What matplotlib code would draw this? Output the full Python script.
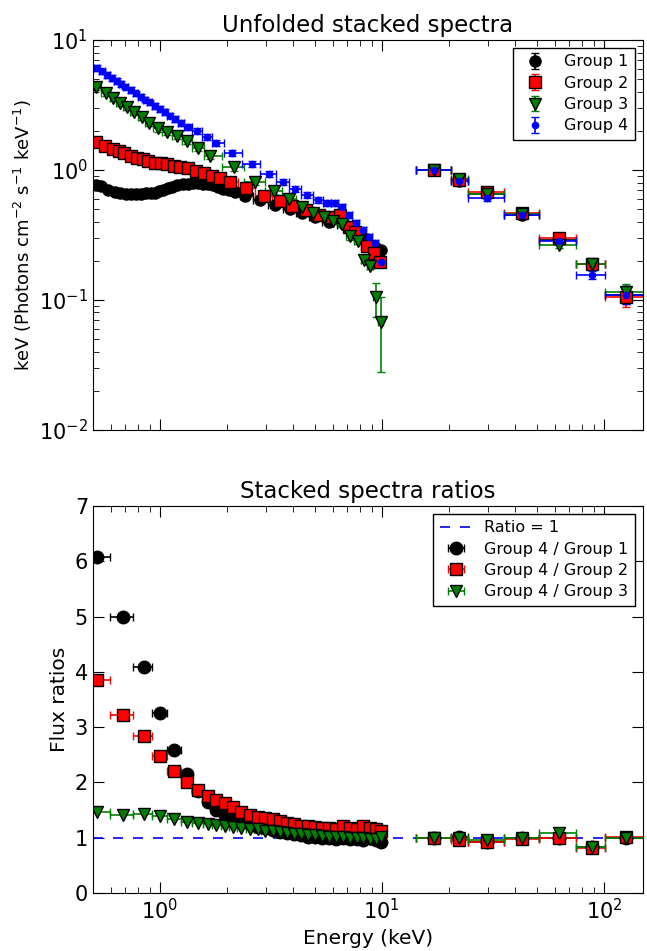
import numpy as np
import matplotlib
matplotlib.use('Agg')
import matplotlib.pyplot as plt

plt.rcParams['font.family'] = 'DejaVu Sans'
plt.rcParams['axes.unicode_minus'] = False
plt.rcParams['xtick.direction'] = 'in'
plt.rcParams['ytick.direction'] = 'in'
plt.rcParams['xtick.top'] = True
plt.rcParams['ytick.right'] = True

# --- soft band (0.5-10 keV) unfolded spectra, one binning per group ---
e_g1 = [0.516, 0.544, 0.585, 0.628, 0.665, 0.704, 0.74, 0.78, 0.82, 0.866, 0.91, 0.95, 0.99,
        1.03, 1.085, 1.14, 1.2, 1.27, 1.34, 1.41, 1.48, 1.56, 1.64, 1.73, 1.82, 1.92, 2.04,
        2.17, 2.43, 2.84, 3.31, 3.87, 4.38, 5.0, 5.77, 6.83, 8.15, 9.3, 9.9]
f_g1 = [0.767, 0.75, 0.70, 0.678, 0.665, 0.653, 0.653, 0.653, 0.655, 0.66, 0.665, 0.67, 0.685,
        0.70, 0.72, 0.74, 0.76, 0.775, 0.785, 0.79, 0.79, 0.785, 0.775, 0.76, 0.74, 0.715, 0.695,
        0.678, 0.63, 0.59, 0.54, 0.50, 0.467, 0.435, 0.40, 0.377, 0.305, 0.256, 0.243]

e_g2 = [0.516, 0.567, 0.615, 0.654, 0.689, 0.741, 0.789, 0.839, 0.883, 0.95, 1.01, 1.075,
        1.155, 1.23, 1.335, 1.45, 1.575, 1.71, 1.86, 2.08, 2.45, 2.96, 3.49, 3.95, 4.56, 5.21,
        5.96, 6.48, 7.11, 7.57, 8.57, 9.2, 9.85]
f_g2 = [1.64, 1.53, 1.45, 1.40, 1.35, 1.28, 1.24, 1.22, 1.17, 1.13, 1.13, 1.11,
        1.07, 1.05, 1.04, 0.98, 0.95, 0.90, 0.87, 0.81, 0.73, 0.63, 0.58, 0.53, 0.49, 0.45,
        0.435, 0.45, 0.365, 0.333, 0.26, 0.23, 0.196]

e_g3 = [0.516, 0.573, 0.615, 0.662, 0.711, 0.764, 0.830, 0.893, 0.980, 1.075, 1.19, 1.32,
        1.48, 1.69, 2.15, 2.69, 3.28, 3.83, 4.38, 4.9, 5.5, 6.03, 6.62, 7.19, 7.81, 8.3, 8.83,
        9.4, 9.9]
f_g3 = [4.35, 3.91, 3.58, 3.28, 3.05, 2.79, 2.56, 2.30, 2.10, 1.96, 1.83, 1.67,
        1.48, 1.28, 1.05, 0.81, 0.69, 0.60, 0.52, 0.467, 0.435, 0.405, 0.385, 0.31, 0.284, 0.203,
        0.183, 0.105, 0.068]

e_g4 = [0.52, 0.55, 0.58, 0.61, 0.64, 0.67, 0.70, 0.74, 0.78, 0.82, 0.86, 0.90, 0.95, 1.0,
        1.05, 1.11, 1.17, 1.24, 1.335, 1.465, 1.624, 1.80, 2.12, 2.59, 3.11, 3.60, 4.07, 4.61,
        5.16, 5.67, 6.15, 6.62, 7.11, 7.64, 8.22, 8.74, 9.30, 9.9]
f_g4 = [6.1, 5.73, 5.40, 5.10, 4.84, 4.60, 4.38, 4.12, 3.88, 3.67, 3.48, 3.31, 3.12, 2.94,
        2.79, 2.62, 2.47, 2.31, 2.13, 2.0, 1.80, 1.61, 1.35, 1.11, 0.93, 0.81, 0.71, 0.64,
        0.59, 0.557, 0.557, 0.52, 0.45, 0.39, 0.347, 0.306, 0.275, 0.196]

# --- hard band points, shared binning ---
e_hard = [17.2, 22.3, 29.9, 42.9, 62.6, 88.4, 125.6]
edges_hard = [14.2, 20.4, 24.4, 35.4, 50.9, 75.0, 101.0, 156.0]
h_g1 = [1.0, 0.82, 0.65, 0.45, 0.29, 0.19, 0.11]
h_g2 = [1.0, 0.84, 0.68, 0.47, 0.30, 0.19, 0.105]
h_g3 = [1.0, 0.85, 0.65, 0.46, 0.265, 0.19, 0.116]
h_g4 = [0.99, 0.82, 0.605, 0.45, 0.285, 0.156, 0.11]
h_err = [0.03, 0.03, 0.025, 0.02, 0.015, 0.012, 0.017]

# relative flux errors in the soft band
rel_err = {'g1': 0.03, 'g2': 0.03, 'g3': 0.06, 'g4': 0.05}
# large errors of the last two Group 3 points (lower, upper)
g3_last_err = [[0.031, 0.040], [0.030, 0.037]]

# --- ratios, common binning ---
e_ratio = [0.52, 0.683, 0.848, 1.0, 1.16, 1.33, 1.48, 1.64, 1.80, 1.96, 2.14, 2.33, 2.54,
           2.76, 2.98, 3.22, 3.47, 3.74, 4.03, 4.34, 4.67, 5.02, 5.40, 5.80, 6.23, 6.69, 7.18,
           7.70, 8.26, 8.85, 9.45, 9.9]
r41 = [6.08, 5.0, 4.09, 3.25, 2.59, 2.15, 1.85, 1.65, 1.50, 1.41, 1.35, 1.29, 1.24, 1.20,
       1.17, 1.14, 1.11, 1.08, 1.06, 1.04, 1.02, 1.01, 1.0, 0.99, 0.98, 0.99, 0.97, 0.98, 0.96,
       0.99, 0.95, 0.93]
r42 = [3.86, 3.22, 2.84, 2.48, 2.20, 2.01, 1.86, 1.75, 1.68, 1.62, 1.55, 1.47, 1.41, 1.38,
       1.35, 1.33, 1.30, 1.27, 1.24, 1.22, 1.21, 1.20, 1.18, 1.17, 1.15, 1.21, 1.17, 1.15, 1.21,
       1.17, 1.16, 1.12]
r43 = [1.47, 1.41, 1.42, 1.40, 1.34, 1.29, 1.26, 1.25, 1.23, 1.22, 1.20, 1.18, 1.16, 1.15,
       1.13, 1.12, 1.10, 1.09, 1.07, 1.06, 1.05, 1.04, 1.03, 1.02, 1.01, 1.01, 1.0, 0.99, 1.0,
       0.98, 0.97, 1.02]
r41_hard = [1.0, 1.01, 0.93, 1.0, 0.99, 0.83, 1.0]
r42_hard = [0.99, 0.96, 0.93, 0.98, 0.99, 0.81, 1.01]
r43_hard = [0.99, 0.99, 0.95, 1.0, 1.09, 0.83, 1.0]


def halfwidths(e):
    e = np.asarray(e, dtype=float)
    mids = np.sqrt(e[1:] * e[:-1])
    lo = np.concatenate([[e[0] ** 2 / mids[0]], mids])
    hi = np.concatenate([mids, [e[-1] ** 2 / mids[-1]]])
    return np.vstack([e - lo, hi - e])


eh = np.array(e_hard)
edh = np.array(edges_hard)
xerr_hard = np.vstack([eh - edh[:-1], edh[1:] - eh])

fig = plt.figure(figsize=(6.47, 9.51), dpi=100)
ax1 = fig.add_axes([0.1437, 0.548, 0.850, 0.410])
ax2 = fig.add_axes([0.1437, 0.061, 0.850, 0.407])

groups = [
    ('Group 1', e_g1, f_g1, h_g1, 'g1', 'black', 'o', 8),
    ('Group 2', e_g2, f_g2, h_g2, 'g2', 'red', 's', 8),
    ('Group 3', e_g3, f_g3, h_g3, 'g3', 'green', 'v', 9),
    ('Group 4', e_g4, f_g4, h_g4, 'g4', 'blue', 'o', 4.5),
]

for label, e, f, h, key, col, mk, ms in groups:
    e = np.array(e)
    f = np.array(f)
    yerr = np.vstack([f * rel_err[key], f * rel_err[key]])
    if key == 'g3':
        yerr[:, -2:] = np.array(g3_last_err)
    x = np.concatenate([e, eh])
    y = np.concatenate([f, h])
    ye = np.hstack([yerr, np.vstack([h_err, h_err])])
    xe = np.hstack([halfwidths(e), xerr_hard])
    ax1.errorbar(x, y, xerr=xe, fmt='none', ecolor=col, elinewidth=1.2, capsize=3)
    ax1.errorbar(x, y, yerr=ye, fmt=mk, color=col, mfc=col, mec='black' if key != 'g4' else col,
                 ms=ms, ecolor=col, elinewidth=1.2, capsize=3, label=label)

ax1.set_xscale('log')
ax1.set_yscale('log')
ax1.set_xlim(0.5, 150)
ax1.set_ylim(1e-2, 10)
ax1.set_title('Unfolded stacked spectra', fontsize=16.5)
ax1.set_ylabel('keV (Photons cm$^{-2}$ s$^{-1}$ keV$^{-1}$)', fontsize=13)
ax1.tick_params(labelbottom=False)
ax1.tick_params(which='major', length=8, labelsize=15)
ax1.tick_params(which='minor', length=4)
ax1.legend(loc='upper right', numpoints=1, fontsize=11.5, labelspacing=0.4, fancybox=False,
           edgecolor='black', framealpha=1)

# ratio panel
ax2.axhline(1, color='blue', ls='--', lw=1.2, dashes=(6, 6), label='Ratio = 1')
ratio_sets = [
    ('Group 4 / Group 1', r41, r41_hard, 'black', 'o', 9),
    ('Group 4 / Group 2', r42, r42_hard, 'red', 's', 9),
    ('Group 4 / Group 3', r43, r43_hard, 'green', 'v', 9),
]
er = np.array(e_ratio)
for label, r, rh, col, mk, ms in ratio_sets:
    x = np.concatenate([er, eh])
    y = np.concatenate([r, rh])
    xe = np.hstack([halfwidths(er), xerr_hard])
    ax2.errorbar(x, y, xerr=xe, fmt=mk, color=col, mfc=col, mec='black', ms=ms,
                 ecolor=col, elinewidth=1.2, capsize=3, label=label)

ax2.set_xscale('log')
ax2.set_xlim(0.5, 150)
ax2.set_ylim(0, 7)
ax2.set_yticks(range(0, 8))
ax2.set_title('Stacked spectra ratios', fontsize=16.5)
ax2.set_xlabel('Energy (keV)', fontsize=14.5)
ax2.set_ylabel('Flux ratios', fontsize=14.5)
ax2.tick_params(which='major', length=8, labelsize=15)
ax2.tick_params(which='minor', length=4)
ax2.legend(loc='upper right', numpoints=1, fontsize=11.5, labelspacing=0.4, fancybox=False,
           edgecolor='black', framealpha=1)

fig.savefig('out.png', dpi=100)
